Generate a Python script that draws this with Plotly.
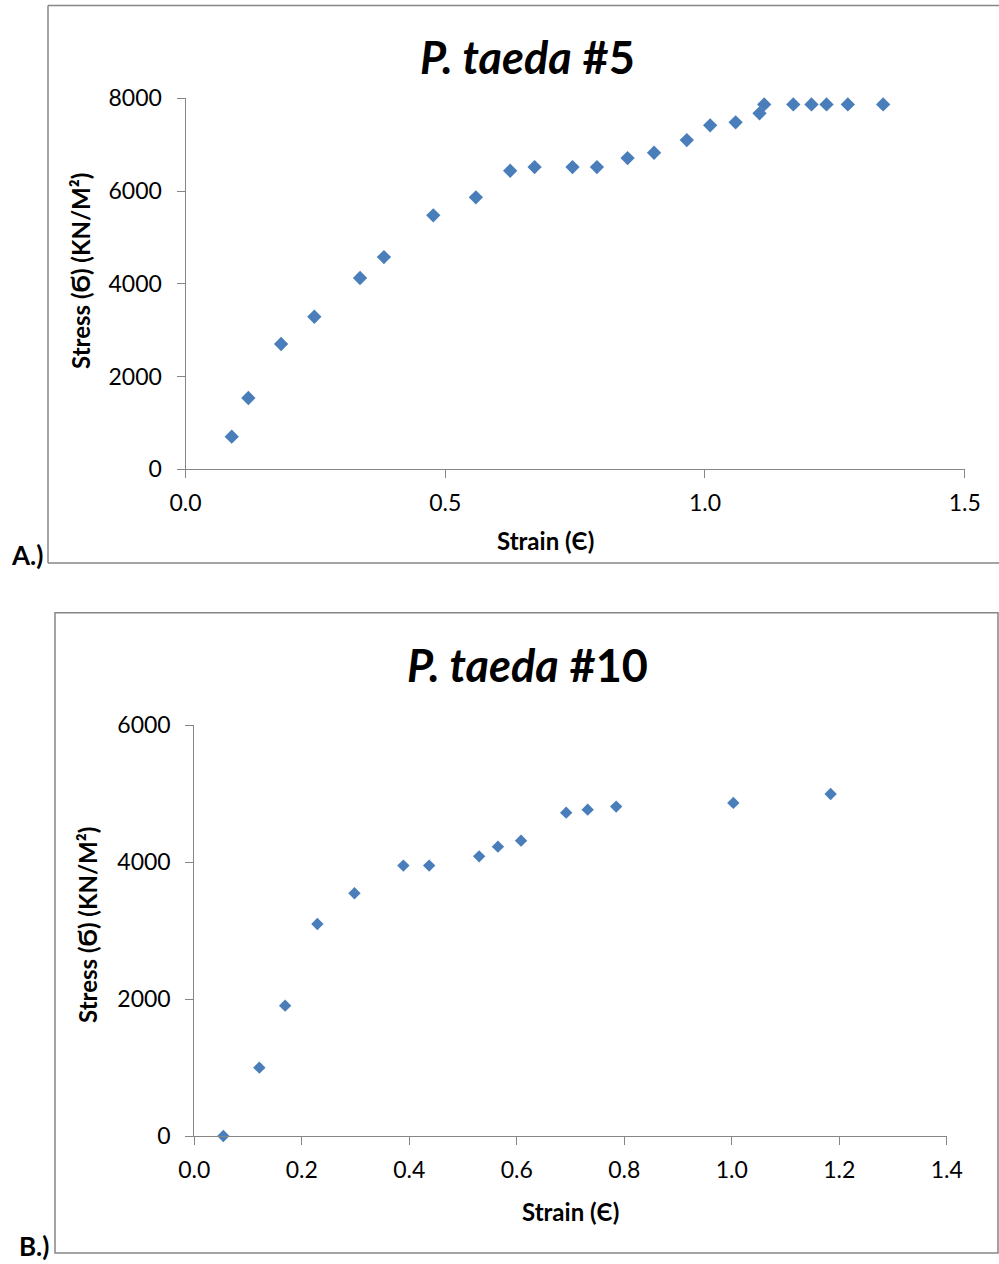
import plotly.graph_objects as go

# Specimen #5 stress-strain readings
strain_5 = [0.089, 0.121, 0.184, 0.248, 0.336, 0.382, 0.477, 0.559, 0.625, 0.672,
            0.745, 0.792, 0.851, 0.902, 0.965, 1.010, 1.059, 1.105, 1.114, 1.170,
            1.205, 1.234, 1.275, 1.343]
stress_5 = [703, 1537, 2702, 3290, 4125, 4577, 5476, 5864, 6438, 6518,
            6518, 6518, 6712, 6826, 7100, 7417, 7481, 7675, 7869, 7869,
            7869, 7869, 7869, 7869]

# Specimen #10 stress-strain readings
strain_10 = [0.054, 0.121, 0.169, 0.229, 0.298, 0.389, 0.437, 0.530, 0.565, 0.608,
             0.692, 0.732, 0.785, 1.003, 1.184]
stress_10 = [0, 998, 1904, 3097, 3546, 3950, 3950, 4086, 4227, 4315,
             4724, 4768, 4812, 4866, 4997]

x_ticks_5 = [0.0, 0.5, 1.0, 1.5]
y_ticks_5 = [0, 2000, 4000, 6000, 8000]
x_ticks_10 = [0.0, 0.2, 0.4, 0.6, 0.8, 1.0, 1.2, 1.4]
y_ticks_10 = [0, 2000, 4000, 6000]

W, H = 999, 1264
FONT = "Lato"
AXIS_GREY = "#868686"
BLUE = "#4a7ebb"


def px(x):
    return x / W


def py(y):
    return 1 - y / H


fig = go.Figure()
fig.add_trace(go.Scatter(x=strain_5, y=stress_5, mode="markers", xaxis="x", yaxis="y",
                         marker=dict(symbol="diamond", size=11, color=BLUE),
                         cliponaxis=False, showlegend=False))
fig.add_trace(go.Scatter(x=strain_10, y=stress_10, mode="markers", xaxis="x2", yaxis="y2",
                         marker=dict(symbol="diamond", size=9.5, color=BLUE),
                         cliponaxis=False, showlegend=False))

axis_common = dict(showline=True, linecolor=AXIS_GREY, linewidth=1, ticks="outside",
                   ticklen=8, tickcolor=AXIS_GREY, tickwidth=1, showgrid=False,
                   zeroline=False, automargin=False,
                   tickfont=dict(family=FONT, size=23, color="black"))

fig.update_layout(
    template="none",
    width=W, height=H, margin=dict(l=0, r=0, t=0, b=0, pad=0, autoexpand=False),
    paper_bgcolor="white", plot_bgcolor="white", showlegend=False,
    xaxis=dict(axis_common, domain=[px(185.5), px(964.7)], range=[0, 1.5],
               tickvals=x_ticks_5, tickformat=".1f", anchor="y", ticklabelstandoff=5),
    yaxis=dict(axis_common, domain=[py(469.3), py(98.3)], range=[0, 8000],
               tickvals=y_ticks_5, tickformat="d", anchor="x", ticklabelstandoff=10),
    xaxis2=dict(axis_common, domain=[px(194.3), px(946.7)], range=[0, 1.4],
                tickvals=x_ticks_10, tickformat=".1f", anchor="y2", ticklabelstandoff=5),
    yaxis2=dict(axis_common, domain=[py(1136), py(725.3)], range=[0, 6000],
                tickvals=y_ticks_10, tickformat="d", anchor="x2", ticklabelstandoff=10),
)

# Chart-area frames
frame = dict(color=AXIS_GREY, width=1.5)
shapes = [
    dict(type="line", xref="paper", yref="paper", x0=px(48), x1=1.01, y0=py(5.5), y1=py(5.5), line=frame),
    dict(type="line", xref="paper", yref="paper", x0=px(48), x1=px(48), y0=py(5.5), y1=py(563), line=frame),
    dict(type="line", xref="paper", yref="paper", x0=px(48), x1=1.01, y0=py(563), y1=py(563), line=frame),
    dict(type="rect", xref="paper", yref="paper", x0=px(55), x1=px(998), y0=py(1253), y1=py(612.7), line=frame),
]
fig.update_layout(shapes=shapes)


def note(text, x, y, size, angle=0, xanchor="center"):
    fig.add_annotation(text=text, x=px(x), y=py(y), xref="paper", yref="paper",
                       showarrow=False, textangle=angle, xanchor=xanchor, yanchor="middle",
                       font=dict(family=FONT, size=size, color="black"))


note("<b><i>P. taeda</i> #5</b>", 527, 57, 45)
note("<b><i>P. taeda</i> #10</b>", 527, 665, 45)
note("<b>Strain (Є)</b>", 545, 540, 24)
note("<b>Strain (Є)</b>", 570, 1211, 24)
note("<b>Stress (Ϭ) (KN/M²)</b>", 80, 271, 24, angle=-90)
note("<b>Stress (Ϭ) (KN/M²)</b>", 87, 925, 24, angle=-90)
note("<b>A.)</b>", 9, 555, 26, xanchor="left")
note("<b>B.)</b>", 17, 1246, 26, xanchor="left")

fig.write_html("out.html")
